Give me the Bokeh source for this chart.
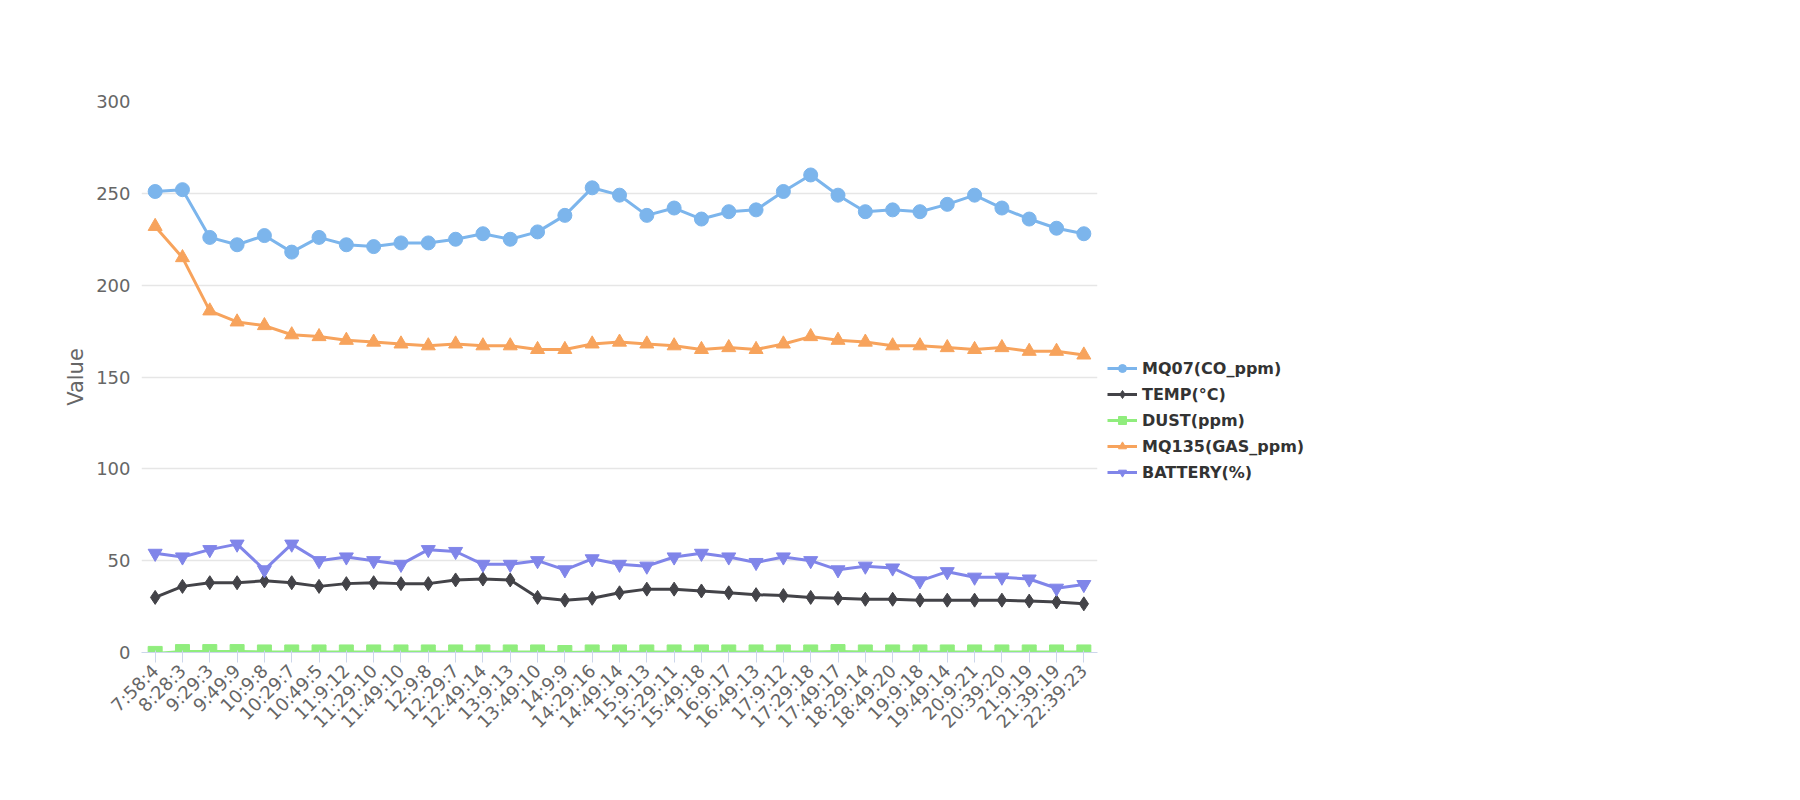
import math

from bokeh.plotting import figure
from bokeh.models import FactorRange, Range1d, Legend, LegendItem, Label
from bokeh.embed import file_html
from bokeh.resources import INLINE

times = ["7:58:4", "8:28:3", "9:29:3", "9:49:9", "10:9:8", "10:29:7", "10:49:5", "11:9:12",
         "11:29:10", "11:49:10", "12:9:8", "12:29:7", "12:49:14", "13:9:13", "13:49:10", "14:9:9",
         "14:29:16", "14:49:14", "15:9:13", "15:29:11", "15:49:18", "16:9:17", "16:49:13", "17:9:12",
         "17:29:18", "17:49:17", "18:29:14", "18:49:20", "19:9:18", "19:49:14", "20:9:21", "20:39:20",
         "21:9:19", "21:39:19", "22:39:23"]

mq07 = [251, 252, 226, 222, 227, 218, 226, 222, 221, 223, 223, 225, 228, 225, 229, 238,
        253, 249, 238, 242, 236, 240, 241, 251, 260, 249, 240, 241, 240, 244, 249, 242,
        236, 231, 228]
temp = [30, 36, 38, 38, 39, 38, 36, 37.5, 38, 37.5, 37.5, 39.5, 40, 39.5, 30, 28.5,
        29.5, 32.5, 34.5, 34.5, 33.5, 32.5, 31.5, 31, 30, 29.5, 29, 29, 28.5, 28.5, 28.5, 28.5,
        28, 27.5, 26.5]
dust = [-0.5, 0.5, 0.5, 0.5, 0.3, 0.3, 0.3, 0.3, 0.3, 0.3, 0.3, 0.3, 0.3, 0.3, 0.3, 0,
        0.3, 0.3, 0.3, 0.3, 0.3, 0.3, 0.3, 0.3, 0.3, 0.5, 0.3, 0.3, 0.3, 0.3, 0.3, 0.3,
        0.3, 0.3, 0.3]
mq135 = [232, 215, 186, 180, 178, 173, 172, 170, 169, 168, 167, 168, 167, 167, 165, 165,
         168, 169, 168, 167, 165, 166, 165, 168, 172, 170, 169, 167, 167, 166, 165, 166,
         164, 164, 162]
battery = [54, 52, 56, 59, 45, 59, 50, 52, 50, 48, 56, 55, 48, 48, 50, 45, 51, 48, 47, 52,
           54, 52, 49, 52, 50, 45, 47, 46, 39, 44, 41, 41, 40, 35, 37]

series = [
    ("MQ07(CO_ppm)", mq07, "#7cb5ec", "circle"),
    ("TEMP(°C)", temp, "#434348", "diamond"),
    ("DUST(ppm)", dust, "#90ed7d", "square"),
    ("MQ135(GAS_ppm)", mq135, "#f7a35c", "triangle"),
    ("BATTERY(%)", battery, "#8085e9", "inverted_triangle"),
]

p = figure(width=1784, height=790, x_range=FactorRange(*times), y_range=Range1d(0, 300),
           output_backend="svg", toolbar_location=None, min_border_left=141,
           min_border_top=101, min_border_right=251, min_border_bottom=138)
p.outline_line_color = None

p.xgrid.grid_line_color = None
p.ygrid.grid_line_color = "#e6e6e6"
p.ygrid.grid_line_width = 1.5
p.yaxis.ticker = [0, 50, 100, 150, 200, 250, 300]
p.yaxis.axis_line_color = None
p.yaxis.major_tick_line_color = None
p.yaxis.minor_tick_line_color = None
p.yaxis.axis_label = "Value"
p.yaxis.axis_label_text_font_style = "normal"
p.yaxis.axis_label_text_font_size = "21px"
p.yaxis.axis_label_text_color = "#666666"
p.xaxis.axis_line_color = "#ccd6eb"
p.xaxis.major_tick_line_color = "#ccd6eb"
p.xaxis.major_tick_out = 10
p.xaxis.major_label_orientation = math.pi / 4
for ax in (p.xaxis, p.yaxis):
    ax.major_label_text_color = "#666666"
    ax.major_label_text_font = "DejaVu Sans"
    ax.major_label_text_font_size = "18px"
    ax.axis_label_text_font = "DejaVu Sans"

items = []
for name, vals, color, marker in series:
    r1 = p.line(times, vals, line_color=color, line_width=3)
    r2 = p.scatter(times, vals, marker=marker, size=14, fill_color=color, line_color=color)
    items.append(LegendItem(label=name, renderers=[r1, r2]))

legend = Legend(items=items, location=(10, 170), border_line_color=None,
                background_fill_alpha=0, label_text_font="DejaVu Sans",
                label_text_font_style="bold", label_text_font_size="16px",
                label_text_color="#333333", spacing=6, glyph_width=30)
p.add_layout(legend, "right")

p.add_layout(Label(x=710, y=551 + 72, x_units="screen", y_units="screen", text="Node: 9",
                   text_align="center", text_baseline="middle", text_font="DejaVu Sans",
                   text_font_size="33px", text_color="#333333"))
p.add_layout(Label(x=1631, y=-128, x_units="screen", y_units="screen", text="Highcharts.com",
                   text_align="right", text_font="DejaVu Sans", text_font_size="15px",
                   text_color="#999999"))

open("out.html", "w").write(file_html(p, INLINE))
